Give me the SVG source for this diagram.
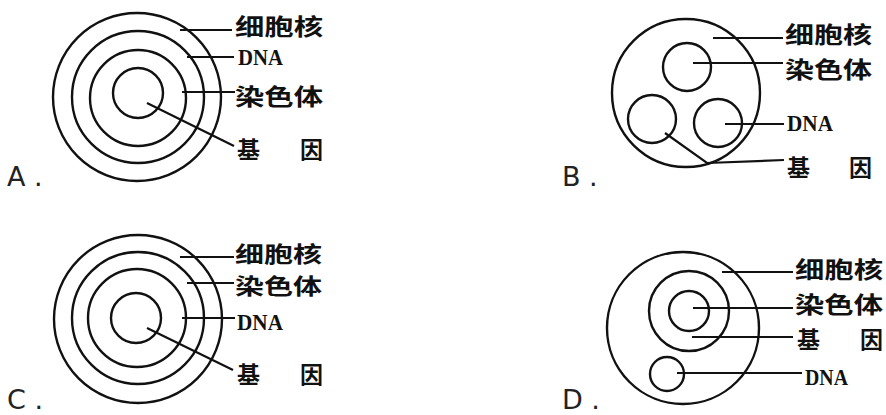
<svg xmlns="http://www.w3.org/2000/svg" width="886" height="415" viewBox="0 0 886 415">
<style>
.c{fill:none;stroke:#111;stroke-width:2.4}
.l{fill:none;stroke:#111;stroke-width:2.2}
.cn{font-family:"Noto Sans CJK SC","Noto Sans CJK JP",sans-serif;font-weight:bold;font-size:23px;fill:#111}
.cs{font-size:22px}
.dn{font-family:"Liberation Serif",serif;font-weight:bold;font-size:23px;fill:#111}
.op{font-family:"DejaVu Sans",sans-serif;font-size:27px;fill:#222}
</style>
<rect width="886" height="415" fill="#fff"/>
<g id="panelA">
<circle class="c" cx="137" cy="97" r="84"/>
<circle class="c" cx="138" cy="97" r="66"/>
<circle class="c" cx="138" cy="98" r="48"/>
<circle class="c" cx="138" cy="93" r="25"/>
<text class="cn" x="235" y="35" textLength="88" lengthAdjust="spacingAndGlyphs">细胞核</text>
<text class="dn" x="238" y="65" textLength="45" lengthAdjust="spacingAndGlyphs">DNA</text>
<text class="cn" x="235" y="105" textLength="88" lengthAdjust="spacingAndGlyphs">染色体</text>
<text class="cn" y="158"><tspan x="237">基</tspan><tspan x="300">因</tspan></text>
<text class="op" x="7" y="186">A .</text>
</g>
<g id="panelB">
<circle class="c" cx="686" cy="93" r="74"/>
<circle class="c" cx="687" cy="67" r="24"/>
<circle class="c" cx="652" cy="119" r="24"/>
<circle class="c" cx="718" cy="123" r="24"/>
<text class="cn" x="785" y="43" textLength="87" lengthAdjust="spacingAndGlyphs">细胞核</text>
<text class="cn" x="785" y="78" textLength="87" lengthAdjust="spacingAndGlyphs">染色体</text>
<text class="dn" x="787" y="131" textLength="46" lengthAdjust="spacingAndGlyphs">DNA</text>
<text class="cn" y="176"><tspan x="787">基</tspan><tspan x="849">因</tspan></text>
<text class="op" x="562" y="186">B .</text>
</g>
<g id="panelC">
<circle class="c" cx="138" cy="319" r="84"/>
<circle class="c" cx="138" cy="318" r="66"/>
<circle class="c" cx="137" cy="318" r="49"/>
<circle class="c" cx="136" cy="318" r="25"/>
<text class="cn cs" x="235" y="262" textLength="87" lengthAdjust="spacingAndGlyphs">细胞核</text>
<text class="cn cs" x="235" y="294" textLength="87" lengthAdjust="spacingAndGlyphs">染色体</text>
<text class="dn" x="237" y="330" textLength="46" lengthAdjust="spacingAndGlyphs">DNA</text>
<text class="cn" y="383"><tspan x="237">基</tspan><tspan x="300">因</tspan></text>
<text class="op" x="7" y="409">C .</text>
</g>
<g id="panelD">
<circle class="c" cx="683" cy="328" r="76"/>
<circle class="c" cx="689" cy="311" r="40"/>
<circle class="c" cx="689" cy="311" r="20"/>
<circle class="c" cx="667" cy="374" r="17"/>
<text class="cn" x="795" y="278" textLength="88" lengthAdjust="spacingAndGlyphs">细胞核</text>
<text class="cn" x="795" y="313" textLength="88" lengthAdjust="spacingAndGlyphs">染色体</text>
<text class="cn" y="348"><tspan x="797">基</tspan><tspan x="860">因</tspan></text>
<text class="dn" x="805" y="385" textLength="43" lengthAdjust="spacingAndGlyphs">DNA</text>
<text class="op" x="562" y="409">D .</text>
</g>
<g id="connectors">
<line class="l" x1="180" y1="30" x2="232" y2="30"/>
<line class="l" x1="187" y1="57" x2="234" y2="57"/>
<line class="l" x1="182" y1="92" x2="235" y2="92"/>
<line class="l" x1="147" y1="103" x2="234" y2="146"/>
<line class="l" x1="713" y1="38" x2="783" y2="38"/>
<line class="l" x1="693" y1="63" x2="783" y2="63"/>
<line class="l" x1="725" y1="124" x2="784" y2="124"/>
<polyline class="l" points="665,133 707,163 784,160"/>
<line class="l" x1="180" y1="257" x2="234" y2="257"/>
<line class="l" x1="187" y1="283" x2="234" y2="283"/>
<line class="l" x1="182" y1="318" x2="235" y2="318"/>
<line class="l" x1="147" y1="328" x2="233" y2="370"/>
<line class="l" x1="722" y1="272" x2="793" y2="272" stroke="#444"/>
<line class="l" x1="693" y1="308" x2="793" y2="308"/>
<line class="l" x1="692" y1="337" x2="793" y2="337"/>
<line class="l" x1="677" y1="373" x2="802" y2="373"/>
</g>
</svg>
